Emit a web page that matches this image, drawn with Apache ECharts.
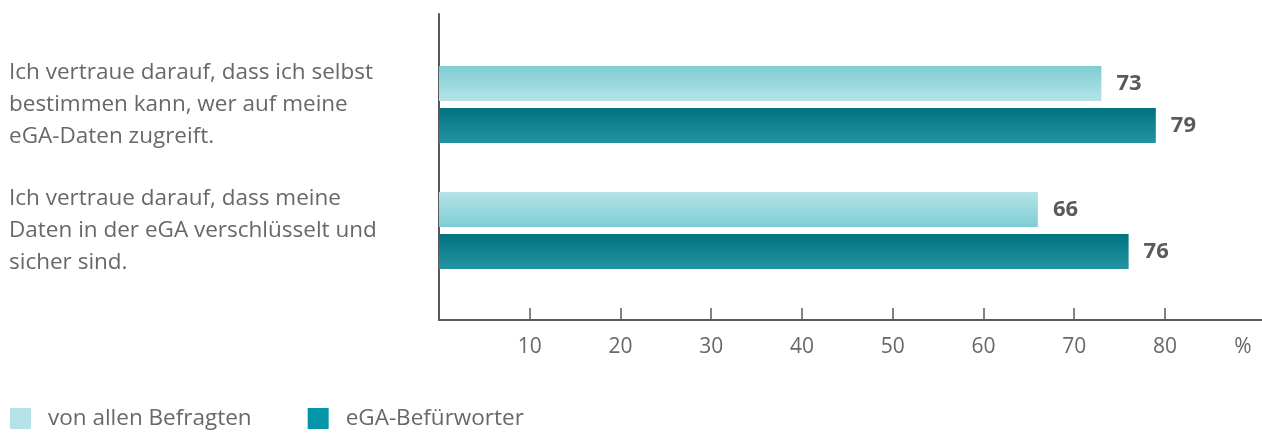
<!DOCTYPE html>
<html>
<head>
<meta charset="utf-8">
<script src="https://cdn.jsdelivr.net/npm/echarts@6/dist/echarts.min.js"></script>
<style>
  html, body { margin: 0; padding: 0; background: #fff; }
  #chart { width: 1262px; height: 433px; }
</style>
</head>
<body>
<div id="chart"></div>
<script>
// Statements (y categories), top to bottom
const categories = [
  'Ich vertraue darauf, dass ich selbst\nbestimmen kann, wer auf meine\neGA-Daten zugreift.',
  'Ich vertraue darauf, dass meine\nDaten in der eGA verschlüsselt und\nsicher sind.'
];
// Share of agreement in percent
const allRespondents = [73, 66];
const egaSupporters = [79, 76];
const seriesNames = ['von allen Befragten', 'eGA-Befürworter'];
const tickValues = [10, 20, 30, 40, 50, 60, 70, 80];
const unitLabel = '%';
const unitPosition = 88.6;

const FONT = '"Open Sans", "Noto Sans", sans-serif';
const TEXT = '#686868';
const AXIS = '#595959';
const X_MAX = 90.7;

const grad = (top, bottom) => new echarts.graphic.LinearGradient(0, 0, 0, 1, [
  { offset: 0, color: top }, { offset: 1, color: bottom }
]);
const lightDown = grad('#7dced4', '#b5e3e8');
const lightUp = grad('#b5e3e8', '#7dced4');
const dark = grad('#00737d', '#2494a4');

const chart = echarts.init(document.getElementById('chart'), null, { renderer: 'canvas' });

const valueLabel = {
  show: true, position: 'right', distance: 15,
  color: '#5a5a5a', fontSize: 22, fontWeight: 'bold', fontFamily: FONT
};

chart.setOption({
  animation: false,
  backgroundColor: '#ffffff',
  textStyle: { fontFamily: FONT },
  grid: [
    // bars
    { left: 439, right: 0, top: 41.5, height: 252 },
    // frame with axes
    { left: 439, right: 0, top: 14, bottom: 113 }
  ],
  legend: {
    left: 5, top: 402,
    itemWidth: 21, itemHeight: 21, itemGap: 56,
    icon: 'rect',
    textStyle: { color: TEXT, fontSize: 22.5, fontFamily: FONT, padding: [0, 0, 0, 12] },
    data: [
      { name: seriesNames[0], itemStyle: { color: '#b3e2e7' } },
      { name: seriesNames[1], itemStyle: { color: '#0495a7' } }
    ]
  },
  xAxis: [
    { gridIndex: 0, type: 'value', min: 0, max: X_MAX, show: false },
    {
      gridIndex: 1, type: 'value', min: 0, max: X_MAX,
      axisLine: { show: true, lineStyle: { color: AXIS, width: 2 } },
      axisTick: { show: true, inside: true, length: 12, customValues: tickValues, lineStyle: { color: AXIS, width: 1.5 } },
      axisLabel: {
        show: true, customValues: tickValues.concat([unitPosition]), margin: 17,
        color: TEXT, fontSize: 21, fontFamily: FONT,
        formatter: v => (v === unitPosition ? unitLabel : String(v))
      },
      splitLine: { show: false }
    }
  ],
  yAxis: [
    {
      gridIndex: 0, type: 'category', inverse: true, data: categories,
      axisLine: { show: false }, axisTick: { show: false },
      axisLabel: {
        align: 'left', margin: 430, color: TEXT, fontSize: 22.5, lineHeight: 32,
        padding: [6, 0, 0, 0], fontFamily: FONT
      }
    },
    {
      gridIndex: 1, type: 'value', min: 0, max: 1,
      axisLine: { show: true, lineStyle: { color: AXIS, width: 2 } },
      axisTick: { show: false }, axisLabel: { show: false }, splitLine: { show: false }
    }
  ],
  series: [
    {
      name: seriesNames[0], type: 'bar', xAxisIndex: 0, yAxisIndex: 0,
      barWidth: 35, barGap: '20%',
      data: allRespondents.map((v, i) => ({ value: v, itemStyle: { color: i === 0 ? lightDown : lightUp } })),
      label: valueLabel
    },
    {
      name: seriesNames[1], type: 'bar', xAxisIndex: 0, yAxisIndex: 0,
      barWidth: 35, barGap: '20%',
      data: egaSupporters.map(v => ({ value: v, itemStyle: { color: dark } })),
      label: valueLabel
    }
  ]
});
</script>
</body>
</html>
